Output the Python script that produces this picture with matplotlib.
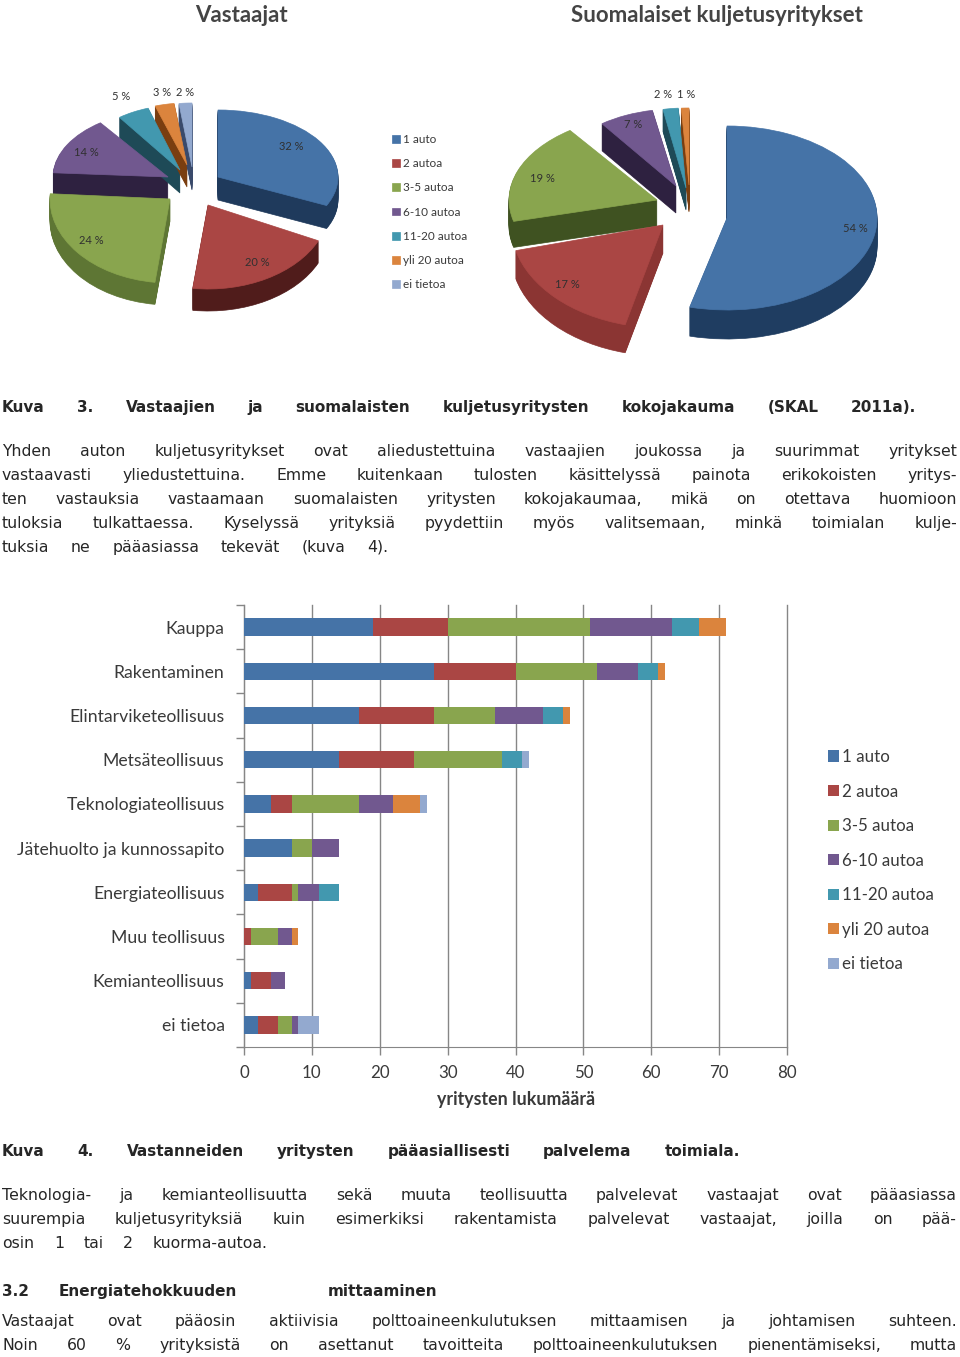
import numpy as np
import matplotlib
matplotlib.use("Agg")
import matplotlib.pyplot as plt
from matplotlib.patches import Wedge
from matplotlib.transforms import Affine2D

W, H = 960, 1357
CHART_FONT = "Lato"
BODY_FONT = "DejaVu Sans"
TEXT_COL = "#262626"
LABEL_COL = "#3a3a3a"

# Data
size_labels = ["1 auto", "2 autoa", "3-5 autoa", "6-10 autoa", "11-20 autoa", "yli 20 autoa", "ei tietoa"]
vastaajat = [32, 20, 24, 14, 5, 3, 2]
suomalaiset = [54, 17, 19, 7, 2, 1]

toimialat = ["Kauppa", "Rakentaminen", "Elintarviketeollisuus", "Metsäteollisuus", "Teknologiateollisuus",
             "Jätehuolto ja kunnossapito", "Energiateollisuus", "Muu teollisuus", "Kemianteollisuus", "ei tietoa"]
auto_1 = [19, 28, 17, 14, 4, 7, 2, 0, 1, 2]
autoa_2 = [11, 12, 11, 11, 3, 0, 5, 1, 3, 3]
autoa_3_5 = [21, 12, 9, 13, 10, 3, 1, 4, 0, 2]
autoa_6_10 = [12, 6, 7, 0, 5, 4, 3, 2, 2, 1]
autoa_11_20 = [4, 3, 3, 3, 0, 0, 3, 0, 0, 0]
yli_20 = [4, 1, 1, 0, 4, 0, 0, 1, 0, 0]
ei_tietoa = [0, 0, 0, 1, 1, 0, 0, 0, 0, 3]
x_ticks = [0, 10, 20, 30, 40, 50, 60, 70, 80]

# Colours
colors = ["#4573A7", "#AA4644", "#89A54E", "#71588F", "#4298AF", "#DB843D", "#93A9CF"]
walls_left = ["#1F3A5C", "#501C1B", "#5E7634", "#2E2140", "#1E4A57", "#7A3E10", "#3A4A6B"]
walls_right = ["#1F3D61", "#8B3533", "#3F5221", "#2E2140", "#1E4A57", "#7A3E10"]

# Page geometry of the exploded slices: apex x, apex y, rx, ry, depth
left_geom = [(218, 177, 120, 67, 23), (208, 205, 122, 84, 22), (170, 199, 120, 84, 22), (168, 177, 115, 67, 23),
             (180, 170, 103, 65, 23), (187, 165, 103, 62, 22), (192, 167, 104, 64, 23)]
right_geom = [(727, 218, 150, 92, 29), (663, 225, 152, 103, 28), (657, 200, 148, 86, 26), (676, 186, 126, 77, 27),
              (686, 188, 123, 80, 22), (689, 185, 123, 77, 27)]
# label positions
left_lab = [(291, 146), (257, 262), (91, 241), (86, 153), (121, 97), (162, 93), (185, 92)]
right_lab = [(855, 229), (567, 285), (542, 178), (633, 125), (663, 94), (686, 95)]

fig = plt.figure(figsize=(W / 100, H / 100), dpi=100)
page = fig.add_axes([0, 0, 1, 1])
page.set_xlim(0, W)
page.set_ylim(H, 0)
page.axis("off")


def draw_pie(values, geom, walls, labs):
    total = sum(values)
    cum = np.cumsum([0] + values) / total * 360
    handles = []
    # side walls first, from the bottom up, top faces afterwards
    for i, v in enumerate(values):
        t1, t2 = cum[i] - 90, cum[i + 1] - 90
        cx, cy, rx, ry, depth = geom[i]
        for d in range(depth, 0, -1):
            tr = Affine2D().scale(rx, ry).translate(cx, cy + d) + page.transData
            page.add_patch(Wedge((0, 0), 1, t1, t2, facecolor=walls[i], edgecolor=walls[i], lw=0.5,
                                 transform=tr, zorder=2))
    for i, v in enumerate(values):
        t1, t2 = cum[i] - 90, cum[i + 1] - 90
        cx, cy, rx, ry, depth = geom[i]
        tr = Affine2D().scale(rx, ry).translate(cx, cy) + page.transData
        w = Wedge((0, 0), 1, t1, t2, facecolor=colors[i], edgecolor=colors[i], lw=0.5, transform=tr, zorder=3)
        page.add_patch(w)
        handles.append(w)
        page.text(labs[i][0], labs[i][1], f"{v} %", ha="center", va="center", fontsize=8,
                  family=CHART_FONT, color="#303030", zorder=5)
    return handles


pie_handles = draw_pie(vastaajat, left_geom, walls_left, left_lab)
draw_pie(suomalaiset, right_geom, walls_right, right_lab)

page.text(241, 15, "Vastaajat", ha="center", va="center", fontsize=16, fontweight="bold",
          family=CHART_FONT, color="#444444")
page.text(717, 15, "Suomalaiset kuljetusyritykset", ha="center", va="center", fontsize=16, fontweight="bold",
          family=CHART_FONT, color="#444444")

leg = page.legend(pie_handles, size_labels, loc="upper left", bbox_to_anchor=(392 / W, 1 - 134 / H),
                  bbox_transform=fig.transFigure, frameon=False, handlelength=0.65, handleheight=0.65,
                  handletextpad=0.25, labelspacing=1.12, borderpad=0, borderaxespad=0,
                  prop={"family": CHART_FONT, "size": 8.5})
for t in leg.get_texts():
    t.set_color(LABEL_COL)

# Stacked bars
ax = fig.add_axes([244 / W, 1 - 1047 / H, 543 / W, 442 / H])
y = np.arange(len(toimialat))
series = [auto_1, autoa_2, autoa_3_5, autoa_6_10, autoa_11_20, yli_20, ei_tietoa]
left = np.zeros(len(toimialat))
for vals, lab, col in zip(series, size_labels, colors):
    ax.barh(y, vals, left=left, height=0.39, color=col, label=lab, zorder=3)
    left += np.array(vals)

ax.set_xlim(0, 80)
ax.set_ylim(9.5, -0.5)
ax.set_xticks(x_ticks)
ax.set_yticks(y)
ax.set_yticklabels(toimialat, family=CHART_FONT, fontsize=12.7, color=LABEL_COL)
ax.set_yticks(np.arange(-0.5, 10), minor=True)
ax.tick_params(axis="y", which="major", length=0, pad=14)
ax.tick_params(axis="y", which="minor", length=6, color="#868686", width=1)
ax.tick_params(axis="x", length=6, color="#868686", width=1, pad=7, labelsize=12.2, labelcolor=LABEL_COL)
for t in ax.get_xticklabels():
    t.set_family(CHART_FONT)
ax.grid(axis="x", color="#868686", lw=1, zorder=1, clip_on=False)
ax.set_axisbelow(True)
for s in ["top", "right"]:
    ax.spines[s].set_visible(False)
for s in ["left", "bottom"]:
    ax.spines[s].set_color("#868686")
ax.set_xlabel("yritysten lukumäärä", family=CHART_FONT, fontsize=12.8, fontweight="bold", color=LABEL_COL)
ax.xaxis.set_label_coords((516 - 244) / 543, -(1100 - 1047) / 442, transform=ax.transAxes)
ax.xaxis.label.set_va("center")

leg2 = ax.legend(loc="upper left", bbox_to_anchor=(828 / W, 1 - 749 / H), bbox_transform=fig.transFigure,
                 frameon=False, handlelength=0.65, handleheight=0.65, handletextpad=0.2, labelspacing=1.095,
                 borderpad=0, borderaxespad=0, prop={"family": CHART_FONT, "size": 12.2})
for t in leg2.get_texts():
    t.set_color(LABEL_COL)

# Page text, justified word by word between the margins of the scan
renderer = fig.canvas.get_renderer()


def text_line(s, yc, x0=2, x1=957, weight="normal"):
    size = 11.0 if weight == "bold" else 11.3
    items = []
    for w in s.split():
        t = page.text(0, yc + 5, w, ha="left", va="baseline", fontsize=size, family=BODY_FONT,
                      fontweight=weight, color=TEXT_COL, zorder=6)
        items.append((t, t.get_window_extent(renderer).width))
    gap = (x1 - x0 - sum(i[1] for i in items)) / max(len(items) - 1, 1)
    x = x0
    for t, w in items:
        t.set_x(x)
        x += w + gap


text_line("Kuva 3. Vastaajien ja suomalaisten kuljetusyritysten kokojakauma (SKAL 2011a).", 407, x1=916, weight="bold")
text_line("Yhden auton kuljetusyritykset ovat aliedustettuina vastaajien joukossa ja suurimmat yritykset", 451)
text_line("vastaavasti yliedustettuina. Emme kuitenkaan tulosten käsittelyssä painota erikokoisten yritys-", 475)
text_line("ten vastauksia vastaamaan suomalaisten yritysten kokojakaumaa, mikä on otettava huomioon", 499)
text_line("tuloksia tulkattaessa. Kyselyssä yrityksiä pyydettiin myös valitsemaan, minkä toimialan kulje-", 523)
text_line("tuksia ne pääasiassa tekevät (kuva 4).", 547, x1=388)
text_line("Kuva 4. Vastanneiden yritysten pääasiallisesti palvelema toimiala.", 1151, x1=740, weight="bold")
text_line("Teknologia- ja kemianteollisuutta sekä muuta teollisuutta palvelevat vastaajat ovat pääasiassa", 1195)
text_line("suurempia kuljetusyrityksiä kuin esimerkiksi rakentamista palvelevat vastaajat, joilla on pää-", 1219)
text_line("osin 1 tai 2 kuorma-autoa.", 1243, x1=268)
text_line("3.2", 1291, x1=35, weight="bold")
text_line("Energiatehokkuuden mittaaminen", 1291, x0=59, x1=437, weight="bold")
text_line("Vastaajat ovat pääosin aktiivisia polttoaineenkulutuksen mittaamisen ja johtamisen suhteen.", 1321)
text_line("Noin 60 % yrityksistä on asettanut tavoitteita polttoaineenkulutuksen pienentämiseksi, mutta", 1345)

fig.savefig("out.png", dpi=100)
